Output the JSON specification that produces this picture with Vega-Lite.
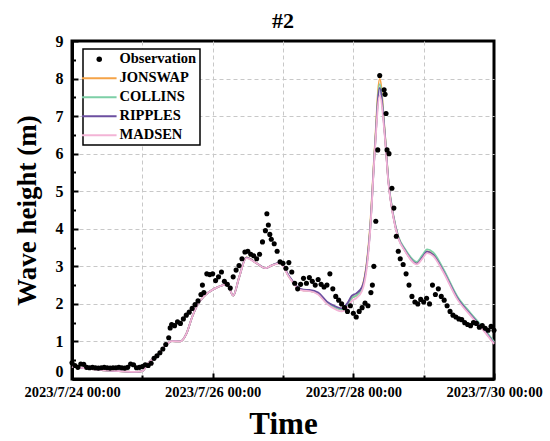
{
  "$schema": "https://vega.github.io/schema/vega-lite/v6.json",
  "width": 422,
  "height": 338,
  "autosize": {"type": "none"},
  "padding": {"left": 72, "top": 41, "right": 56, "bottom": 62},
  "background": "white",
  "title": {"text": "#2", "font": "Liberation Serif", "fontSize": 22, "fontWeight": "bold", "color": "black", "anchor": "middle", "frame": "group", "offset": 0},
  "config": {
    "view": {"stroke": "black", "strokeWidth": 3},
    "axis": {"domainColor": "black", "domainWidth": 3, "tickColor": "black", "tickWidth": 2,
      "labelFont": "Liberation Serif", "labelFontWeight": "bold", "labelColor": "black",
      "titleFont": "Liberation Serif", "titleFontWeight": "bold", "titleColor": "black",
      "gridColor": "#c8c8c8", "gridDash": [4, 3], "gridWidth": 1}
  },
  "datasets": {
    "obs": [
      {"t": "2023-07-24T00:00", "v": 0.43}, {"t": "2023-07-24T01:00", "v": 0.36}, {"t": "2023-07-24T02:00", "v": 0.31}, {"t": "2023-07-24T03:00", "v": 0.4},
      {"t": "2023-07-24T04:00", "v": 0.39}, {"t": "2023-07-24T05:00", "v": 0.31}, {"t": "2023-07-24T06:00", "v": 0.3}, {"t": "2023-07-24T07:00", "v": 0.31},
      {"t": "2023-07-24T08:00", "v": 0.3}, {"t": "2023-07-24T09:00", "v": 0.29}, {"t": "2023-07-24T10:00", "v": 0.3}, {"t": "2023-07-24T11:00", "v": 0.31},
      {"t": "2023-07-24T12:00", "v": 0.3}, {"t": "2023-07-24T13:00", "v": 0.29}, {"t": "2023-07-24T14:00", "v": 0.3}, {"t": "2023-07-24T15:00", "v": 0.3},
      {"t": "2023-07-24T16:00", "v": 0.31}, {"t": "2023-07-24T17:00", "v": 0.3}, {"t": "2023-07-24T18:00", "v": 0.29}, {"t": "2023-07-24T19:00", "v": 0.31},
      {"t": "2023-07-24T20:00", "v": 0.4}, {"t": "2023-07-24T21:00", "v": 0.38}, {"t": "2023-07-24T22:00", "v": 0.3}, {"t": "2023-07-24T23:00", "v": 0.31},
      {"t": "2023-07-25T00:00", "v": 0.33}, {"t": "2023-07-25T01:00", "v": 0.38}, {"t": "2023-07-25T02:00", "v": 0.36}, {"t": "2023-07-25T03:00", "v": 0.42},
      {"t": "2023-07-25T04:00", "v": 0.55}, {"t": "2023-07-25T05:00", "v": 0.62}, {"t": "2023-07-25T06:00", "v": 0.7}, {"t": "2023-07-25T07:00", "v": 0.8},
      {"t": "2023-07-25T08:00", "v": 0.92}, {"t": "2023-07-25T09:00", "v": 1.1}, {"t": "2023-07-25T09:30", "v": 1.36}, {"t": "2023-07-25T10:00", "v": 1.45},
      {"t": "2023-07-25T11:00", "v": 1.42}, {"t": "2023-07-25T12:00", "v": 1.52}, {"t": "2023-07-25T13:00", "v": 1.48}, {"t": "2023-07-25T14:00", "v": 1.6},
      {"t": "2023-07-25T15:00", "v": 1.7}, {"t": "2023-07-25T16:00", "v": 1.78}, {"t": "2023-07-25T17:00", "v": 1.88}, {"t": "2023-07-25T18:00", "v": 1.98},
      {"t": "2023-07-25T19:00", "v": 2.08}, {"t": "2023-07-25T20:00", "v": 2.25}, {"t": "2023-07-25T20:30", "v": 2.5}, {"t": "2023-07-25T21:00", "v": 2.3},
      {"t": "2023-07-25T22:00", "v": 2.8}, {"t": "2023-07-25T23:00", "v": 2.78}, {"t": "2023-07-26T00:00", "v": 2.8}, {"t": "2023-07-26T01:00", "v": 2.62},
      {"t": "2023-07-26T02:00", "v": 2.72}, {"t": "2023-07-26T03:00", "v": 2.85}, {"t": "2023-07-26T04:00", "v": 2.6}, {"t": "2023-07-26T05:00", "v": 2.52},
      {"t": "2023-07-26T06:00", "v": 2.42}, {"t": "2023-07-26T07:00", "v": 2.72}, {"t": "2023-07-26T08:00", "v": 2.9}, {"t": "2023-07-26T09:00", "v": 3.02},
      {"t": "2023-07-26T10:00", "v": 3.2}, {"t": "2023-07-26T11:00", "v": 3.38}, {"t": "2023-07-26T12:00", "v": 3.4}, {"t": "2023-07-26T13:00", "v": 3.32},
      {"t": "2023-07-26T14:00", "v": 3.28}, {"t": "2023-07-26T15:00", "v": 3.2}, {"t": "2023-07-26T16:00", "v": 3.32}, {"t": "2023-07-26T17:00", "v": 3.65},
      {"t": "2023-07-26T18:00", "v": 3.95}, {"t": "2023-07-26T18:30", "v": 4.4}, {"t": "2023-07-26T19:00", "v": 4.1}, {"t": "2023-07-26T19:30", "v": 3.85},
      {"t": "2023-07-26T20:00", "v": 3.72}, {"t": "2023-07-26T21:00", "v": 3.6}, {"t": "2023-07-26T22:00", "v": 3.4}, {"t": "2023-07-26T23:00", "v": 3.12},
      {"t": "2023-07-27T00:00", "v": 3.08}, {"t": "2023-07-27T01:00", "v": 2.95}, {"t": "2023-07-27T02:00", "v": 3.1}, {"t": "2023-07-27T03:00", "v": 2.85},
      {"t": "2023-07-27T04:00", "v": 2.55}, {"t": "2023-07-27T05:00", "v": 2.4}, {"t": "2023-07-27T06:00", "v": 2.52}, {"t": "2023-07-27T07:00", "v": 2.68},
      {"t": "2023-07-27T08:00", "v": 2.55}, {"t": "2023-07-27T09:00", "v": 2.7}, {"t": "2023-07-27T10:00", "v": 2.6}, {"t": "2023-07-27T11:00", "v": 2.5},
      {"t": "2023-07-27T12:00", "v": 2.65}, {"t": "2023-07-27T13:00", "v": 2.52}, {"t": "2023-07-27T14:00", "v": 2.45}, {"t": "2023-07-27T15:00", "v": 2.5},
      {"t": "2023-07-27T16:00", "v": 2.8}, {"t": "2023-07-27T17:00", "v": 2.4}, {"t": "2023-07-27T18:00", "v": 2.2}, {"t": "2023-07-27T19:00", "v": 2.1},
      {"t": "2023-07-27T20:00", "v": 2.0}, {"t": "2023-07-27T21:00", "v": 1.9}, {"t": "2023-07-27T22:00", "v": 1.8}, {"t": "2023-07-27T23:00", "v": 1.95},
      {"t": "2023-07-28T00:00", "v": 1.75}, {"t": "2023-07-28T01:00", "v": 1.65}, {"t": "2023-07-28T02:00", "v": 1.8}, {"t": "2023-07-28T03:00", "v": 1.9},
      {"t": "2023-07-28T04:00", "v": 2.02}, {"t": "2023-07-28T05:00", "v": 1.95}, {"t": "2023-07-28T06:00", "v": 2.3}, {"t": "2023-07-28T06:30", "v": 2.5},
      {"t": "2023-07-28T07:00", "v": 3.0}, {"t": "2023-07-28T07:40", "v": 4.2}, {"t": "2023-07-28T08:20", "v": 6.1}, {"t": "2023-07-28T09:00", "v": 8.08},
      {"t": "2023-07-28T10:30", "v": 7.7}, {"t": "2023-07-28T10:50", "v": 7.58}, {"t": "2023-07-28T11:10", "v": 7.07}, {"t": "2023-07-28T11:30", "v": 6.1},
      {"t": "2023-07-28T12:10", "v": 6.0}, {"t": "2023-07-28T13:10", "v": 5.08}, {"t": "2023-07-28T13:50", "v": 4.55}, {"t": "2023-07-28T14:40", "v": 3.8},
      {"t": "2023-07-28T15:20", "v": 3.4}, {"t": "2023-07-28T16:00", "v": 3.2}, {"t": "2023-07-28T17:00", "v": 3.05}, {"t": "2023-07-28T18:00", "v": 2.8},
      {"t": "2023-07-28T19:00", "v": 2.5}, {"t": "2023-07-28T20:00", "v": 2.2}, {"t": "2023-07-28T21:00", "v": 2.05}, {"t": "2023-07-28T22:00", "v": 2.0},
      {"t": "2023-07-28T23:00", "v": 2.12}, {"t": "2023-07-29T00:00", "v": 2.05}, {"t": "2023-07-29T01:00", "v": 2.15}, {"t": "2023-07-29T02:00", "v": 2.0},
      {"t": "2023-07-29T03:00", "v": 2.5}, {"t": "2023-07-29T04:00", "v": 2.25}, {"t": "2023-07-29T05:00", "v": 2.4}, {"t": "2023-07-29T06:00", "v": 2.2},
      {"t": "2023-07-29T07:00", "v": 2.1}, {"t": "2023-07-29T08:00", "v": 1.95}, {"t": "2023-07-29T09:00", "v": 1.8}, {"t": "2023-07-29T10:00", "v": 1.7},
      {"t": "2023-07-29T11:00", "v": 1.65}, {"t": "2023-07-29T12:00", "v": 1.6}, {"t": "2023-07-29T13:00", "v": 1.58}, {"t": "2023-07-29T14:00", "v": 1.5},
      {"t": "2023-07-29T15:00", "v": 1.45}, {"t": "2023-07-29T16:00", "v": 1.42}, {"t": "2023-07-29T17:00", "v": 1.5}, {"t": "2023-07-29T18:00", "v": 1.48},
      {"t": "2023-07-29T19:00", "v": 1.38}, {"t": "2023-07-29T20:00", "v": 1.42}, {"t": "2023-07-29T21:00", "v": 1.35}, {"t": "2023-07-29T22:00", "v": 1.3},
      {"t": "2023-07-29T23:00", "v": 1.4}, {"t": "2023-07-30T00:00", "v": 1.3}
    ],
    "model": [
      {"t": "2023-07-24T00:00", "JONSWAP": 0.33, "COLLINS": 0.33, "RIPPLES": 0.33, "MADSEN": 0.33},
      {"t": "2023-07-24T04:00", "JONSWAP": 0.29, "COLLINS": 0.29, "RIPPLES": 0.29, "MADSEN": 0.29},
      {"t": "2023-07-24T10:00", "JONSWAP": 0.24, "COLLINS": 0.24, "RIPPLES": 0.24, "MADSEN": 0.24},
      {"t": "2023-07-24T16:00", "JONSWAP": 0.21, "COLLINS": 0.21, "RIPPLES": 0.21, "MADSEN": 0.21},
      {"t": "2023-07-24T22:00", "JONSWAP": 0.19, "COLLINS": 0.19, "RIPPLES": 0.19, "MADSEN": 0.19},
      {"t": "2023-07-25T00:00", "JONSWAP": 0.21, "COLLINS": 0.21, "RIPPLES": 0.21, "MADSEN": 0.21},
      {"t": "2023-07-25T02:00", "JONSWAP": 0.42, "COLLINS": 0.42, "RIPPLES": 0.42, "MADSEN": 0.42},
      {"t": "2023-07-25T05:00", "JONSWAP": 0.62, "COLLINS": 0.62, "RIPPLES": 0.62, "MADSEN": 0.62},
      {"t": "2023-07-25T08:00", "JONSWAP": 0.9, "COLLINS": 0.9, "RIPPLES": 0.9, "MADSEN": 0.9},
      {"t": "2023-07-25T10:00", "JONSWAP": 1.01, "COLLINS": 1.01, "RIPPLES": 1.01, "MADSEN": 1.01},
      {"t": "2023-07-25T13:00", "JONSWAP": 1.0, "COLLINS": 1.0, "RIPPLES": 1.0, "MADSEN": 1.0},
      {"t": "2023-07-25T15:00", "JONSWAP": 1.2, "COLLINS": 1.2, "RIPPLES": 1.2, "MADSEN": 1.2},
      {"t": "2023-07-25T17:00", "JONSWAP": 1.65, "COLLINS": 1.65, "RIPPLES": 1.65, "MADSEN": 1.65},
      {"t": "2023-07-25T19:00", "JONSWAP": 2.0, "COLLINS": 2.0, "RIPPLES": 2.0, "MADSEN": 2.0},
      {"t": "2023-07-25T21:00", "JONSWAP": 2.2, "COLLINS": 2.2, "RIPPLES": 2.2, "MADSEN": 2.2},
      {"t": "2023-07-26T01:00", "JONSWAP": 2.42, "COLLINS": 2.42, "RIPPLES": 2.42, "MADSEN": 2.42},
      {"t": "2023-07-26T05:00", "JONSWAP": 2.52, "COLLINS": 2.52, "RIPPLES": 2.52, "MADSEN": 2.52},
      {"t": "2023-07-26T07:00", "JONSWAP": 2.22, "COLLINS": 2.22, "RIPPLES": 2.22, "MADSEN": 2.22},
      {"t": "2023-07-26T09:00", "JONSWAP": 2.7, "COLLINS": 2.7, "RIPPLES": 2.7, "MADSEN": 2.7},
      {"t": "2023-07-26T11:30", "JONSWAP": 3.24, "COLLINS": 3.23, "RIPPLES": 3.23, "MADSEN": 3.22},
      {"t": "2023-07-26T15:00", "JONSWAP": 3.08, "COLLINS": 3.08, "RIPPLES": 3.08, "MADSEN": 3.08},
      {"t": "2023-07-26T18:00", "JONSWAP": 2.95, "COLLINS": 2.95, "RIPPLES": 2.95, "MADSEN": 2.95},
      {"t": "2023-07-26T20:00", "JONSWAP": 3.02, "COLLINS": 3.02, "RIPPLES": 3.02, "MADSEN": 3.02},
      {"t": "2023-07-26T23:00", "JONSWAP": 3.09, "COLLINS": 3.09, "RIPPLES": 3.1, "MADSEN": 3.08},
      {"t": "2023-07-27T02:00", "JONSWAP": 2.73, "COLLINS": 2.73, "RIPPLES": 2.75, "MADSEN": 2.72},
      {"t": "2023-07-27T05:00", "JONSWAP": 2.43, "COLLINS": 2.43, "RIPPLES": 2.45, "MADSEN": 2.42},
      {"t": "2023-07-27T07:00", "JONSWAP": 2.36, "COLLINS": 2.36, "RIPPLES": 2.38, "MADSEN": 2.35},
      {"t": "2023-07-27T09:00", "JONSWAP": 2.35, "COLLINS": 2.35, "RIPPLES": 2.37, "MADSEN": 2.34},
      {"t": "2023-07-27T12:00", "JONSWAP": 2.27, "COLLINS": 2.27, "RIPPLES": 2.3, "MADSEN": 2.25},
      {"t": "2023-07-27T15:00", "JONSWAP": 2.03, "COLLINS": 2.03, "RIPPLES": 2.06, "MADSEN": 2.0},
      {"t": "2023-07-27T18:00", "JONSWAP": 1.9, "COLLINS": 1.9, "RIPPLES": 1.93, "MADSEN": 1.85},
      {"t": "2023-07-27T20:00", "JONSWAP": 1.85, "COLLINS": 1.85, "RIPPLES": 1.88, "MADSEN": 1.8},
      {"t": "2023-07-27T22:00", "JONSWAP": 1.96, "COLLINS": 1.96, "RIPPLES": 2.02, "MADSEN": 1.9},
      {"t": "2023-07-27T23:30", "JONSWAP": 2.16, "COLLINS": 2.16, "RIPPLES": 2.22, "MADSEN": 2.08},
      {"t": "2023-07-28T01:00", "JONSWAP": 2.22, "COLLINS": 2.22, "RIPPLES": 2.28, "MADSEN": 2.15},
      {"t": "2023-07-28T03:00", "JONSWAP": 2.45, "COLLINS": 2.42, "RIPPLES": 2.45, "MADSEN": 2.35},
      {"t": "2023-07-28T04:30", "JONSWAP": 3.05, "COLLINS": 3.0, "RIPPLES": 3.0, "MADSEN": 2.9},
      {"t": "2023-07-28T05:40", "JONSWAP": 4.0, "COLLINS": 3.92, "RIPPLES": 3.9, "MADSEN": 3.85},
      {"t": "2023-07-28T07:20", "JONSWAP": 6.2, "COLLINS": 6.12, "RIPPLES": 6.1, "MADSEN": 6.06},
      {"t": "2023-07-28T09:00", "JONSWAP": 8.0, "COLLINS": 7.85, "RIPPLES": 7.75, "MADSEN": 7.55},
      {"t": "2023-07-28T10:45", "JONSWAP": 6.55, "COLLINS": 6.55, "RIPPLES": 6.5, "MADSEN": 6.45},
      {"t": "2023-07-28T12:00", "JONSWAP": 5.25, "COLLINS": 5.27, "RIPPLES": 5.22, "MADSEN": 5.2},
      {"t": "2023-07-28T13:40", "JONSWAP": 4.33, "COLLINS": 4.36, "RIPPLES": 4.32, "MADSEN": 4.3},
      {"t": "2023-07-28T15:20", "JONSWAP": 3.78, "COLLINS": 3.8, "RIPPLES": 3.77, "MADSEN": 3.75},
      {"t": "2023-07-28T17:40", "JONSWAP": 3.43, "COLLINS": 3.46, "RIPPLES": 3.42, "MADSEN": 3.4},
      {"t": "2023-07-28T21:40", "JONSWAP": 3.08, "COLLINS": 3.12, "RIPPLES": 3.07, "MADSEN": 3.05},
      {"t": "2023-07-28T23:30", "JONSWAP": 3.24, "COLLINS": 3.29, "RIPPLES": 3.23, "MADSEN": 3.2},
      {"t": "2023-07-29T01:10", "JONSWAP": 3.4, "COLLINS": 3.45, "RIPPLES": 3.39, "MADSEN": 3.35},
      {"t": "2023-07-29T03:10", "JONSWAP": 3.32, "COLLINS": 3.38, "RIPPLES": 3.31, "MADSEN": 3.28},
      {"t": "2023-07-29T06:40", "JONSWAP": 2.9, "COLLINS": 2.94, "RIPPLES": 2.88, "MADSEN": 2.85},
      {"t": "2023-07-29T11:30", "JONSWAP": 2.16, "COLLINS": 2.2, "RIPPLES": 2.15, "MADSEN": 2.12},
      {"t": "2023-07-29T15:50", "JONSWAP": 1.74, "COLLINS": 1.77, "RIPPLES": 1.73, "MADSEN": 1.7},
      {"t": "2023-07-29T20:20", "JONSWAP": 1.33, "COLLINS": 1.36, "RIPPLES": 1.32, "MADSEN": 1.3},
      {"t": "2023-07-30T00:00", "JONSWAP": 0.96, "COLLINS": 0.99, "RIPPLES": 0.95, "MADSEN": 0.93}
    ]
  },
  "encoding": {
    "x": {"field": "t", "type": "temporal", "title": "Time",
      "scale": {"domain": [{"year": 2023, "month": 7, "date": 24}, {"year": 2023, "month": 7, "date": 30}]},
      "axis": {
        "values": [{"year": 2023, "month": 7, "date": 24}, {"year": 2023, "month": 7, "date": 25}, {"year": 2023, "month": 7, "date": 26}, {"year": 2023, "month": 7, "date": 27}, {"year": 2023, "month": 7, "date": 28}, {"year": 2023, "month": 7, "date": 29}, {"year": 2023, "month": 7, "date": 30}],
        "labelExpr": "date(datum.value) % 2 == 0 ? timeFormat(datum.value, '%Y/%-m/%d %H:%M') : ''",
        "labelFontSize": 14.5, "labelPadding": 12, "labelOverlap": false, "labelFlush": false,
        "tickSize": {"condition": {"test": "date(datum.value) % 2 == 0", "value": -6}, "value": -4},
        "gridOpacity": {"condition": {"test": "date(datum.value) == 24 || date(datum.value) == 30", "value": 0}, "value": 1},
        "titleFontSize": 31, "titlePadding": 9
      }
    },
    "y": {"type": "quantitative", "title": "Wave height (m)",
      "scale": {"domain": [0, 9], "nice": false},
      "axis": {
        "values": [0, 0.5, 1, 1.5, 2, 2.5, 3, 3.5, 4, 4.5, 5, 5.5, 6, 6.5, 7, 7.5, 8, 8.5, 9],
        "labelExpr": "datum.value % 1 == 0 ? format(datum.value, 'd') : ''",
        "labelFontSize": 16, "labelPadding": 15,
        "labelBaseline": {"condition": {"test": "datum.value == 0", "value": "bottom"}, "value": "middle"},
        "tickSize": {"condition": {"test": "datum.value % 1 == 0", "value": -6}, "value": -3.5},
        "gridOpacity": {"condition": {"test": "datum.value % 1 == 0 && datum.value > 0 && datum.value < 9", "value": 1}, "value": 0},
        "titleFontSize": 27, "titlePadding": 14
      }
    },
    "color": {"field": "series", "type": "nominal",
      "scale": {"domain": ["Observation", "JONSWAP", "COLLINS", "RIPPLES", "MADSEN"], "range": ["black", "#F5A347", "#7DCFA6", "#6C4FA0", "#F3B4D6"]},
      "legend": {"orient": "none", "legendX": 11, "legendY": 8, "title": null,
        "labelFont": "Liberation Serif", "labelFontSize": 14.5, "labelFontWeight": "bold", "labelColor": "black",
        "strokeColor": "black", "fillColor": "white", "padding": 3, "rowPadding": 4, "symbolSize": 300, "symbolOffset": 6, "labelOffset": 13,
        "encode": {
          "legend": {"update": {"strokeWidth": {"value": 1.5}}},
          "symbols": {"update": {
            "shape": {"signal": "datum.value === 'Observation' ? 'circle' : 'M-2,0H2'"},
            "size": {"signal": "datum.value === 'Observation' ? 30 : 300"},
            "fill": {"signal": "datum.value === 'Observation' ? 'black' : 'transparent'"},
            "stroke": {"signal": "datum.value === 'Observation' ? 'black' : scale('color', datum.value)"},
            "strokeWidth": {"signal": "datum.value === 'Observation' ? 0 : 2"},
            "opacity": {"value": 1}
          }}
        }
      }
    }
  },
  "layer": [
    {
      "data": {"name": "model"},
      "transform": [{"fold": ["JONSWAP", "COLLINS", "RIPPLES", "MADSEN"], "as": ["series", "v"]}],
      "mark": {"type": "line", "interpolate": "monotone", "strokeWidth": 1.8},
      "encoding": {"y": {"field": "v", "type": "quantitative"}}
    },
    {
      "data": {"name": "obs"},
      "transform": [{"fold": ["v"], "as": ["k", "val"]}, {"calculate": "'Observation'", "as": "series"}],
      "mark": {"type": "circle", "size": 26, "opacity": 1},
      "encoding": {"y": {"field": "val", "type": "quantitative"}}
    }
  ]
}
